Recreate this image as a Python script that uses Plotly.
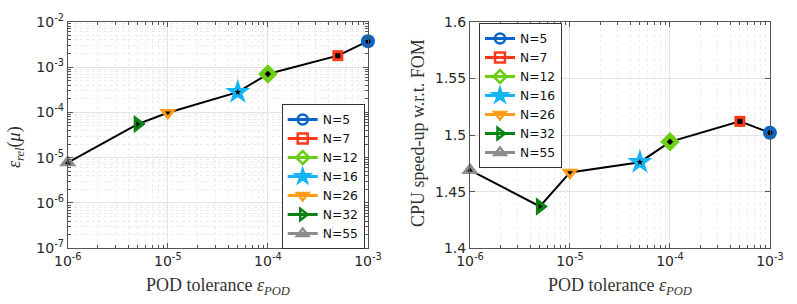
import plotly.graph_objects as go

labels = ["N=5", "N=7", "N=12", "N=16", "N=26", "N=32", "N=55"]
tol = [1e-3, 5e-4, 1e-4, 5e-5, 1e-5, 5e-6, 1e-6]
err_rel = [3.7e-3, 1.78e-3, 7.0e-4, 2.8e-4, 9.8e-5, 5.5e-5, 7.8e-6]
speedup = [1.502, 1.512, 1.494, 1.476, 1.467, 1.437, 1.469]
x_tickvals = [1e-6, 1e-5, 1e-4, 1e-3]
x_ticktext = ["10<sup>-6</sup>", "10<sup>-5</sup>", "10<sup>-4</sup>", "10<sup>-3</sup>"]
y_tickvals = [1e-7, 1e-6, 1e-5, 1e-4, 1e-3, 1e-2]
y_ticktext = ["10<sup>-7</sup>", "10<sup>-6</sup>", "10<sup>-5</sup>", "10<sup>-4</sup>",
              "10<sup>-3</sup>", "10<sup>-2</sup>"]
colors = ["#0a64c8", "#ff3a1a", "#6ccd14", "#14b4f5", "#ff9c1a", "#0a8214", "#8c8c8c"]
symbols = ["circle", "square", "diamond", "star", "triangle-down", "triangle-right", "triangle-up"]
sizes = [14, 11, 15, 19, 15, 16, 15]

fig = go.Figure()

GRID = "#e3e3e3"
MGRID = "#ececec"
AX = "#555555"
TICKF = dict(family="DejaVu Sans, sans-serif", size=14, color="#262626")

for k, (xa, ya, yv) in enumerate([("x", "y", err_rel), ("x2", "y2", speedup)]):
    fig.add_trace(go.Scatter(x=tol, y=yv, mode="lines", line=dict(color="black", width=2),
                             xaxis=xa, yaxis=ya, showlegend=False, hoverinfo="skip", cliponaxis=False))
    for i in range(len(labels)):
        fig.add_trace(go.Scatter(x=[tol[i]], y=[yv[i]], mode="markers", cliponaxis=False,
                                 marker=dict(symbol=symbols[i], size=sizes[i], color=colors[i],
                                             line=dict(width=0)),
                                 xaxis=xa, yaxis=ya, showlegend=False))
        fig.add_trace(go.Scatter(x=[tol[i]], y=[yv[i]], mode="markers", cliponaxis=False,
                                 marker=dict(symbol=symbols[i], size=5, color="black",
                                             line=dict(width=0)),
                                 xaxis=xa, yaxis=ya, showlegend=False))
    for i in range(len(labels)):
        fig.add_trace(go.Scatter(x=[None], y=[None], mode="lines+markers", name=labels[i],
                                 line=dict(color=colors[i], width=3),
                                 marker=dict(symbol=symbols[i] + "-open" if symbols[i] != "star" else "star",
                                             size=10, color=colors[i], line=dict(width=2.5, color=colors[i])),
                                 xaxis=xa, yaxis=ya, legend="legend" if k == 0 else "legend2"))

xcommon = dict(type="log", range=[-6.0002, -2.9998], tickvals=x_tickvals, ticktext=x_ticktext,
               ticks="inside", ticklen=5, tickcolor=AX, mirror="allticks", showline=True,
               linecolor=AX, linewidth=1, showgrid=True, gridcolor=GRID, zeroline=False,
               tickfont=TICKF, automargin=False,
               minor=dict(dtick="D1", showgrid=True, gridcolor=MGRID, griddash="dot",
                          ticks="inside", ticklen=3, tickcolor=AX))

LEGF = dict(family="DejaVu Sans, sans-serif", size=12.3, color="#111111")
fig.update_layout(
    width=797, height=304, margin=dict(l=0, r=0, t=0, b=0),
    paper_bgcolor="white", plot_bgcolor="white",
    xaxis=dict(domain=[0.085, 0.4617], anchor="y", **xcommon),
    xaxis2=dict(domain=[0.5897, 0.9661], anchor="y2", **xcommon),
    yaxis=dict(domain=[0.1832, 0.9286], anchor="x", type="log", range=[-7, -2],
               tickvals=y_tickvals, ticktext=y_ticktext, ticks="inside", ticklen=5,
               tickcolor=AX, mirror="allticks", showline=True, linecolor=AX, linewidth=1,
               showgrid=True, gridcolor=GRID, zeroline=False, tickfont=TICKF, automargin=False,
               minor=dict(dtick="D1", showgrid=True, gridcolor=MGRID, griddash="dot",
                          ticks="inside", ticklen=3, tickcolor=AX)),
    yaxis2=dict(domain=[0.1832, 0.9286], anchor="x2", range=[1.4, 1.6], dtick=0.05,
                ticks="inside", ticklen=5, tickcolor=AX, mirror="allticks", automargin=False,
                showline=True, linecolor=AX, linewidth=1, showgrid=True, gridcolor=GRID,
                zeroline=False, tickfont=TICKF),
    legend=dict(x=281.7 / 797, y=1 - 104 / 304, xanchor="left", yanchor="top", bgcolor="white",
                bordercolor="#333333", borderwidth=1, font=LEGF, tracegroupgap=0, itemwidth=30),
    legend2=dict(x=479 / 797, y=1 - 23 / 304, xanchor="left", yanchor="top", bgcolor="white",
                 bordercolor="#333333", borderwidth=1, font=LEGF, tracegroupgap=0, itemwidth=30),
)

SERIF = dict(family="Liberation Serif, DejaVu Serif, serif", size=18, color="#333333")
fig.add_annotation(text="POD tolerance <i>ε<sub>POD</sub></i>", x=218, y=286, showarrow=False, font=SERIF)
fig.add_annotation(text="POD tolerance <i>ε<sub>POD</sub></i>", x=620, y=286, showarrow=False, font=SERIF)
fig.add_annotation(text="<i>ε<sub>rel</sub></i>(<i>μ</i>)", x=15, y=147, textangle=-90, showarrow=False, font=SERIF)
fig.add_annotation(text="CPU speed-up w.r.t. FOM", x=418, y=133, textangle=-90, showarrow=False, font=SERIF)

for a in fig.layout.annotations:
    a.xref = "paper"; a.yref = "paper"
    a.x = a.x / 797; a.y = 1 - a.y / 304
    a.xanchor = "center"; a.yanchor = "middle"

fig.write_html("out.html", config={"displayModeBar": False},
               post_script="document.body.style.margin='0';document.body.style.overflow='hidden';")
